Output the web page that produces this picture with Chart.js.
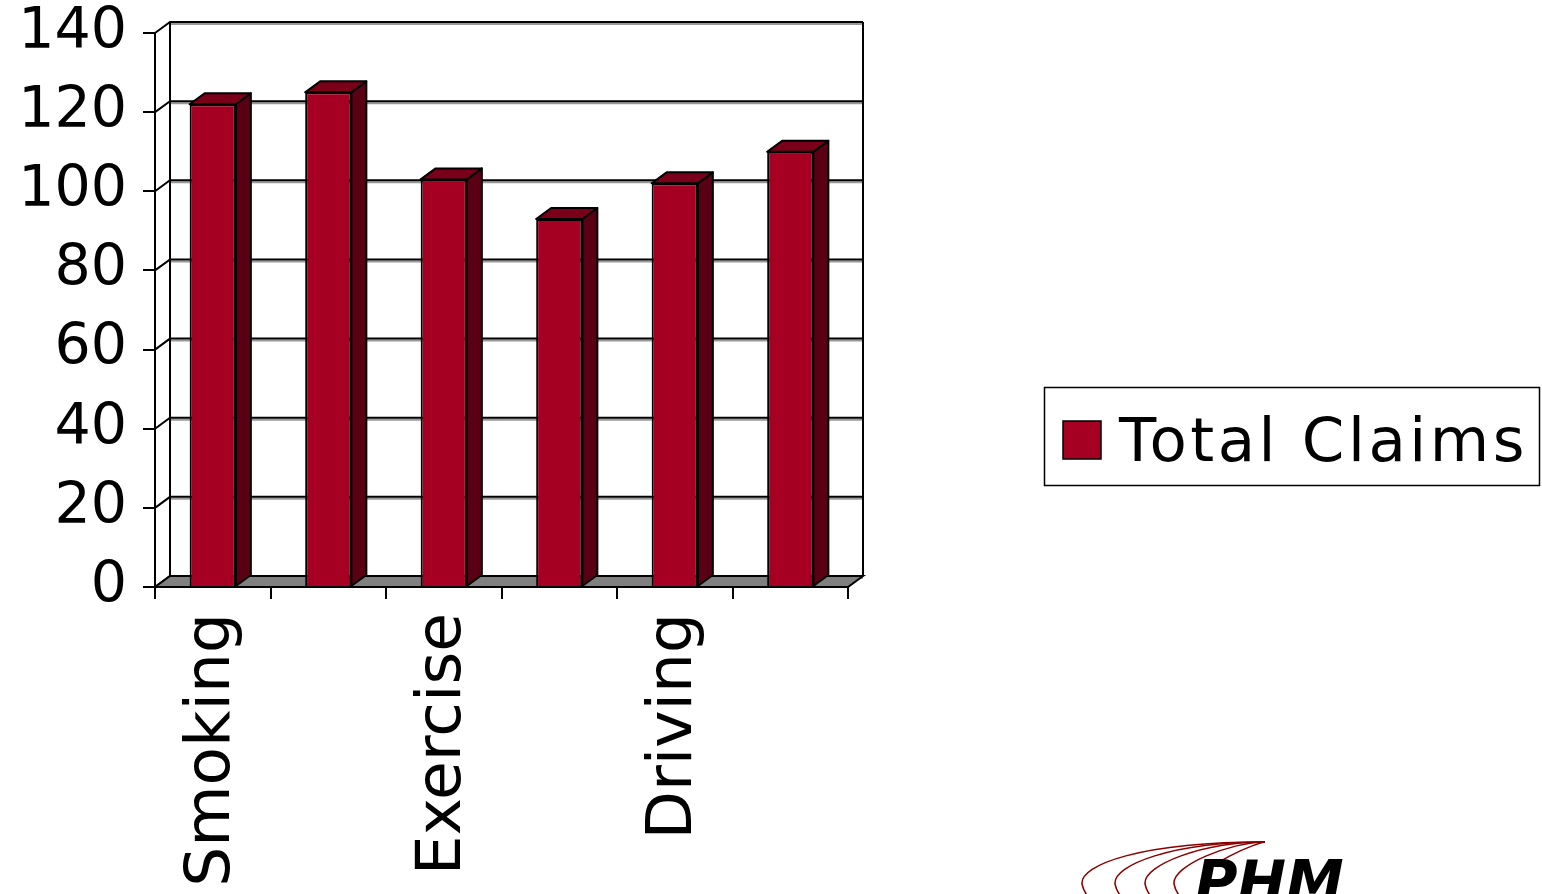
<!DOCTYPE html>
<html>
<head>
<meta charset="utf-8">
<title>Total Claims</title>
<script src="https://cdn.jsdelivr.net/npm/chart.js@4"></script>
<style>
  html, body { margin: 0; padding: 0; background: #fff; }
  #wrap { width: 1542px; height: 894px; position: relative; }
</style>
</head>
<body>
<div id="wrap"><canvas id="claimsChart"></canvas></div>
<script>
// chart data (only every other category label is readable in the source)
const categories = ['Smoking', '', 'Exercise', '', 'Driving', ''];
const totalClaims = [122, 125, 103, 93, 102, 110];
const yTicks = [0, 20, 40, 60, 80, 100, 120, 140];
const seriesName = 'Total Claims';

const FRONT = '#a50021';
const SIDE = '#5a0014';
const TOP = '#7a0019';
const DX = 15, DY = -11; // fake depth offset

// back wall, grid lines and floor drawn behind the bars
const wallPlugin = {
    id: 'wall',
    beforeDatasetsDraw(chart) {
        const { ctx, chartArea: a, scales: { y } } = chart;
        ctx.save();
        ctx.lineWidth = 2;
        yTicks.forEach(v => {
            const py = y.getPixelForValue(v);
            ctx.strokeStyle = '#999';
            ctx.beginPath();
            ctx.moveTo(a.left + DX, py + DY + 2);
            ctx.lineTo(a.right + DX, py + DY + 2);
            ctx.stroke();
            ctx.strokeStyle = '#000';
            ctx.beginPath();
            ctx.moveTo(a.left, py);
            ctx.lineTo(a.left + DX, py + DY);
            ctx.lineTo(a.right + DX, py + DY);
            ctx.stroke();
        });
        ctx.beginPath();
        ctx.moveTo(a.left + DX, a.top + DY);
        ctx.lineTo(a.left + DX, a.bottom + DY);
        ctx.moveTo(a.right + DX, a.top + DY);
        ctx.lineTo(a.right + DX, a.bottom + DY);
        ctx.stroke();
        // floor
        ctx.fillStyle = '#808080';
        ctx.beginPath();
        ctx.moveTo(a.left, a.bottom);
        ctx.lineTo(a.right, a.bottom);
        ctx.lineTo(a.right + DX, a.bottom + DY);
        ctx.lineTo(a.left + DX, a.bottom + DY);
        ctx.closePath();
        ctx.fill();
        ctx.stroke();
        ctx.restore();
    },
    // side and top faces of each bar
    afterDatasetsDraw(chart) {
        const { ctx } = chart;
        const meta = chart.getDatasetMeta(0);
        ctx.save();
        ctx.lineWidth = 2;
        ctx.strokeStyle = '#000';
        ctx.lineJoin = 'round';
        meta.data.forEach(bar => {
            const { x, y, width, base } = bar.getProps(['x', 'y', 'width', 'base'], true);
            const l = x - width / 2, r = x + width / 2;
            ctx.fillStyle = SIDE;
            ctx.beginPath();
            ctx.moveTo(r, y);
            ctx.lineTo(r + DX, y + DY);
            ctx.lineTo(r + DX, base + DY);
            ctx.lineTo(r, base);
            ctx.closePath();
            ctx.fill();
            ctx.stroke();
            ctx.fillStyle = TOP;
            ctx.beginPath();
            ctx.moveTo(l, y);
            ctx.lineTo(l + DX, y + DY);
            ctx.lineTo(r + DX, y + DY);
            ctx.lineTo(r, y);
            ctx.closePath();
            ctx.fill();
            ctx.stroke();
        });
        ctx.restore();
    }
};

// boxed legend on the right and the small PHM logo
const legendPlugin = {
    id: 'boxLegend',
    afterDraw(chart) {
        const { ctx } = chart;
        ctx.save();
        ctx.strokeStyle = '#000';
        ctx.lineWidth = 1.5;
        ctx.strokeRect(1044.5, 387.5, 495, 98);
        ctx.fillStyle = FRONT;
        ctx.fillRect(1063, 421, 38, 38);
        ctx.strokeRect(1063, 421, 38, 38);
        ctx.fillStyle = '#000';
        ctx.font = '61px "DejaVu Sans"';
        ctx.letterSpacing = '3.5px';
        ctx.textBaseline = 'alphabetic';
        ctx.fillText(chart.data.datasets[0].label, 1119, 461);
        ctx.letterSpacing = '0px';

        // logo
        ctx.strokeStyle = '#8b0000';
        ctx.lineWidth = 1.5;
        [1080, 1113, 1143, 1172, 1199].forEach(lx => {
            ctx.beginPath();
            ctx.moveTo(1265, 842);
            ctx.bezierCurveTo(lx + 60, 842, lx, 865, lx + 2, 884);
            ctx.quadraticCurveTo(lx + 4, 894, lx + 12, 900);
            ctx.stroke();
        });
        ctx.fillStyle = '#000';
        ctx.font = 'italic bold 58px "DejaVu Sans"';
        ctx.fillText('PHM', 1195, 902);
        ctx.restore();
    }
};

new Chart(document.getElementById('claimsChart'), {
    type: 'bar',
    data: {
        labels: categories,
        datasets: [{
            label: seriesName,
            data: totalClaims,
            backgroundColor: FRONT,
            borderColor: '#000',
            borderWidth: 2,
            barPercentage: 0.4,
            categoryPercentage: 1
        }]
    },
    options: {
        responsive: true,
        maintainAspectRatio: false,
        animation: false,
        layout: { padding: { left: 0, right: 694, top: 0, bottom: 0 } },
        plugins: {
            legend: { display: false },
            tooltip: { enabled: false }
        },
        scales: {
            x: {
                grid: { offset: true, drawOnChartArea: false, tickLength: 12, color: '#000', lineWidth: 2 },
                border: { display: true, color: '#000', width: 2 },
                ticks: {
                    autoSkip: false,
                    minRotation: 90,
                    maxRotation: 90,
                    padding: 14,
                    color: '#000',
                    font: { family: 'DejaVu Sans', size: 63 }
                },
                afterFit: scale => { scale.height = 307; }
            },
            y: {
                min: 0,
                max: 140,
                grid: { drawOnChartArea: false, tickLength: 12, color: '#000', lineWidth: 2 },
                border: { display: true, color: '#000', width: 2 },
                ticks: {
                    stepSize: 20,
                    padding: 16,
                    color: '#000',
                    font: { family: 'DejaVu Sans', size: 57 }
                },
                afterFit: scale => {
                    scale.width = 155;
                    scale.paddingTop = 33;
                }
            }
        }
    },
    plugins: [wallPlugin, legendPlugin]
});
</script>
</body>
</html>
